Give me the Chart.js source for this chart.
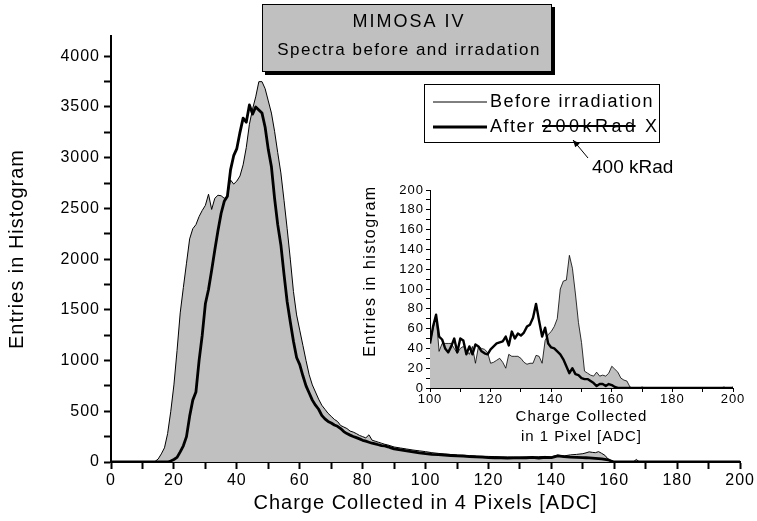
<!DOCTYPE html>
<html lang="en">
<head>
<meta charset="UTF-8">
<title>MIMOSA IV spectra</title>
<script src="https://cdn.jsdelivr.net/npm/chart.js"></script>
<style>
  body { margin: 0; background: #fff; }
  #wrap { position: relative; width: 757px; height: 521px; }
  #main { position: absolute; left: 0; top: 0; }
  #inset { position: absolute; left: 330px; top: 175px; }
</style>
</head>
<body>
<div id="wrap">
  <canvas id="main" width="757" height="521"></canvas>
  <canvas id="inset" width="427" height="275"></canvas>
</div>
<script>
// Charge in 4 pixels [ADC], bins
const mainX = [0,
  12, 13, 14, 15, 16, 17, 18, 19, 20, 21, 22, 23, 24, 25, 26, 27, 28, 29, 30,
  31, 32, 33, 34, 35, 36, 37, 38, 39, 40, 41, 42, 43, 44, 45, 46, 47, 48, 49, 50,
  51, 52, 53, 54, 55, 56, 57, 58, 59, 60, 61, 62, 63, 64, 65, 66, 67, 68, 69, 70,
  71, 72, 73, 74, 75, 76, 77, 78, 79, 80, 81, 82, 83, 84, 85, 86, 87, 88, 89, 90,
  92, 94, 96, 98, 100, 102, 104, 106, 108, 110, 112, 114, 116, 118, 120,
  122, 124, 126, 128, 130, 132, 134, 136, 138, 140, 142, 144, 146, 148, 150,
  151, 152, 153, 154, 155, 156, 157, 158, 159, 160,
  161, 162, 163, 164, 165, 166, 167, 168, 169, 170,
  200];

const mainBefore = [0,
  0, 0, 5, 30, 80, 140, 280, 500, 760, 1100, 1470, 1720, 1960, 2200, 2300, 2340, 2420, 2480, 2530,
  2640, 2490, 2600, 2630, 2625, 2600, 2620, 2780, 2740, 2770, 2820, 2930, 3100, 3330, 3480, 3600, 3750, 3750, 3680, 3560,
  3440, 3260, 3050, 2850, 2580, 2300, 2000, 1680, 1450, 1300, 1150, 1000, 860, 760, 690, 620, 560, 520, 480, 450,
  420, 400, 360, 345, 330, 305, 295, 280, 262, 250, 238, 268, 215, 205, 195, 185, 175, 168, 158, 148,
  138, 128, 118, 110, 102, 92, 85, 78, 74, 70, 68, 63, 60, 57, 55,
  53, 51, 50, 49, 49, 48, 50, 52, 55, 50, 68, 60, 70, 75, 82,
  90, 100, 95, 92, 102, 85, 66, 30, 12, 0,
  0, 0, 0, 0, 0, 0, 25, 0, 0, 0,
  0];

const mainAfter = [0,
  0, 0, 0, 0, 0, 0, 0, 10, 25, 45, 100, 160, 250, 450, 610, 690, 1000, 1250, 1560,
  1700, 1890, 2090, 2280, 2450, 2570, 2620, 2880, 3020, 3090, 3250, 3390, 3350, 3520, 3430, 3500, 3470, 3440, 3300, 3080,
  2910, 2600, 2340, 2140, 1850, 1580, 1380, 1190, 1030, 960, 850, 750, 680, 610, 560, 520, 460, 425, 400, 385,
  365, 352, 330, 300, 280, 265, 252, 240, 228, 214, 205, 195, 185, 178, 170, 162, 158, 150, 140, 130,
  120, 110, 100, 90, 82, 76, 72, 69, 64, 60, 58, 54, 50, 48, 44,
  42, 40, 38, 40, 40, 42, 45, 38, 45, 44, 60, 52, 48, 46, 43,
  42, 40, 38, 36, 33, 30, 26, 22, 10, 0,
  0, 0, 0, 0, 0, 0, 0, 0, 0, 0,
  0];

// Charge in 1 pixel [ADC], bins
const insetX = [
  100, 101, 102, 103, 104, 105, 106, 107, 108, 109, 110, 111, 112, 113, 114, 115, 116, 117, 118, 119,
  120, 121, 122, 123, 124, 125, 126, 127, 128, 129, 130, 131, 132, 133, 134, 135, 136, 137, 138, 139,
  140, 141, 142, 143, 144, 145, 146, 147, 148, 149, 150, 151, 152, 153, 154, 155, 156, 157, 158, 159,
  160, 161, 162, 163, 164, 165, 166, 167, 168, 169, 170, 171,
  196, 197, 198, 199, 200];

const insetBefore = [
  45, 60, 74, 37, 45, 45, 45, 45, 40, 35, 40, 42, 38, 34, 42, 25, 42, 40, 39, 36,
  25, 26, 28, 30, 26, 20, 34, 32, 32, 32, 30, 26, 24, 25, 25, 33, 32, 25, 48, 54,
  57, 62, 70, 100, 108, 109, 134, 121, 95, 66, 46, 17, 15, 13, 12, 16, 12, 13, 12, 15,
  22, 19, 16, 10, 8, 7, 1, 0, 0, 0, 1, 0,
  0, 1, 0, 0, 1];

const insetAfter = [
  45, 62, 74, 52, 49, 40, 36, 42, 50, 36, 50, 48, 34, 42, 34, 44, 42, 37, 35, 34,
  39, 42, 45, 46, 47, 52, 43, 57, 50, 55, 53, 56, 62, 64, 71, 85, 68, 52, 61, 45,
  41, 40, 37, 34, 29, 22, 15, 20, 14, 13, 10, 9, 9, 7, 5, 2, 4, 4, 2, 4,
  3, 1, 0, 0, 0, 0, 0, 0, 0, 0, 0, 0,
  0, 0, 0, 0, 0];

// tick positions (labels on every second one)
const mainXTicks = [0, 10, 20, 30, 40, 50, 60, 70, 80, 90, 100, 110, 120, 130, 140, 150, 160, 170, 180, 190, 200];
const mainYTicks = [0, 250, 500, 750, 1000, 1250, 1500, 1750, 2000, 2250, 2500, 2750, 3000, 3250, 3500, 3750, 4000];
const insetXTicks = [100, 110, 120, 130, 140, 150, 160, 170, 180, 190, 200];
const insetYTicks = [0, 10, 20, 30, 40, 50, 60, 70, 80, 90, 100, 110, 120, 130, 140, 150, 160, 170, 180, 190, 200];

const titleLines = ['MIMOSA IV', 'Spectra before and irradation'];
const legendBefore = 'Before irradiation';
const legendAfter = ['After ', '200kRad', ' X'];   // middle part is struck out
const doseNote = '400 kRad';

const FONT = "'Liberation Sans', Arial, sans-serif";
Chart.defaults.font.family = FONT;
Chart.defaults.color = '#000';

const pts = (xs, ys) => xs.map((x, i) => ({ x: x, y: ys[i] }));

// Origin-style wide letter spacing on every canvas text
const spacing = {
  id: 'spacing',
  beforeUpdate(chart) { chart.ctx.letterSpacing = '1px'; },
  beforeDraw(chart) { chart.ctx.letterSpacing = '1px'; }
};

function axis(min, max, tickList, labelStep, size, tickLen, border) {
  return {
    type: 'linear', min: min, max: max,
    afterBuildTicks: s => { s.ticks = tickList.map(v => ({ value: v })); },
    ticks: {
      autoSkip: false, maxRotation: 0, font: { size: size }, padding: 2,
      callback: v => (v % labelStep === 0 ? v : '')
    },
    grid: { drawOnChartArea: false, drawTicks: true, tickLength: tickLen, tickColor: '#000', tickWidth: border },
    border: { display: true, color: '#000', width: border }
  };
}

// title box, legend and the dose annotation
const decorations = {
  id: 'decorations',
  afterDraw(chart) {
    const ctx = chart.ctx;
    ctx.save();

    // title box with drop shadow
    ctx.fillStyle = '#000';
    ctx.fillRect(265, 7, 290, 68);
    ctx.fillStyle = '#c0c0c0';
    ctx.fillRect(262, 4, 290, 68);
    ctx.strokeStyle = '#000';
    ctx.lineWidth = 1;
    ctx.strokeRect(262.5, 4.5, 289, 67);
    ctx.fillStyle = '#000';
    ctx.textAlign = 'center';
    ctx.textBaseline = 'middle';
    ctx.font = '18px ' + FONT;
    ctx.letterSpacing = '2px';
    ctx.fillText(titleLines[0], 409, 22);
    ctx.font = '17px ' + FONT;
    ctx.letterSpacing = '1.5px';
    ctx.fillText(titleLines[1], 409, 50);

    // legend
    const ds = chart.data.datasets;
    ctx.strokeRect(424.5, 84.5, 235, 58);
    ctx.font = '18px ' + FONT;
    ctx.textAlign = 'left';
    const rows = [{ y: 102, w: ds[1].borderWidth }, { y: 127, w: ds[0].borderWidth }];
    rows.forEach(r => {
      ctx.lineWidth = r.w;
      ctx.beginPath();
      ctx.moveTo(433, r.y);
      ctx.lineTo(487, r.y);
      ctx.stroke();
    });
    const x0 = 490;
    ctx.letterSpacing = '1.5px';
    ctx.fillText(legendBefore, x0, 102);
    let x = x0;
    legendAfter.forEach((part, i) => {
      ctx.letterSpacing = i === 1 ? '3.5px' : '1.5px';
      ctx.fillText(part, x, 127);
      const w = ctx.measureText(part).width;
      if (i === 1) {
        ctx.lineWidth = 2;
        ctx.beginPath();
        ctx.moveTo(x, 126);
        ctx.lineTo(x + w - 3, 126);
        ctx.stroke();
      }
      x += w;
    });

    // arrow pointing at the struck dose
    const ax = 588, ay = 158, bx = 573, by = 140;
    ctx.lineWidth = 1;
    ctx.beginPath();
    ctx.moveTo(ax, ay);
    ctx.lineTo(bx, by);
    ctx.stroke();
    const a = Math.atan2(by - ay, bx - ax);
    ctx.beginPath();
    ctx.moveTo(bx, by);
    ctx.lineTo(bx - 7 * Math.cos(a) + 3 * Math.sin(a), by - 7 * Math.sin(a) - 3 * Math.cos(a));
    ctx.lineTo(bx - 7 * Math.cos(a) - 3 * Math.sin(a), by - 7 * Math.sin(a) + 3 * Math.cos(a));
    ctx.closePath();
    ctx.fill();

    ctx.letterSpacing = '0px';
    ctx.font = '19px ' + FONT;
    ctx.fillText(doseNote, 592, 168);
    ctx.restore();
  }
};

const mainXAxis = axis(0, 200, mainXTicks, 20, 16, 7, 2);
mainXAxis.title = { display: true, text: 'Charge Collected in 4 Pixels [ADC]', font: { size: 20 }, padding: { top: 0, bottom: 6 } };
mainXAxis.afterFit = s => { s.height = 59; };
const mainYAxis = axis(0, 4200, mainYTicks, 500, 16, 7, 2);
mainYAxis.ticks.padding = 4;
mainYAxis.title = { display: true, text: 'Entries in Histogram', font: { size: 20 }, padding: { top: 5, bottom: 0 } };
mainYAxis.afterFit = s => { s.width = 111; };

new Chart(document.getElementById('main'), {
  type: 'line',
  data: {
    datasets: [
      { label: 'After', data: pts(mainX, mainAfter), borderColor: '#000', borderWidth: 2.8,
        borderJoinStyle: 'round', fill: false, order: 0 },
      { label: 'Before irradiation', data: pts(mainX, mainBefore), borderColor: '#000', borderWidth: 1,
        backgroundColor: '#c0c0c0', fill: 'origin', order: 1 }
    ]
  },
  options: {
    responsive: false, animation: false, devicePixelRatio: 1,
    layout: { padding: { left: 0, right: 16, top: 36, bottom: 0 } },
    elements: { point: { radius: 0 }, line: { tension: 0 } },
    plugins: { legend: { display: false }, tooltip: { enabled: false } },
    scales: { x: mainXAxis, y: mainYAxis }
  },
  plugins: [spacing, decorations]
});

// rotated y title of the inset, sitting a little above the axis middle
const insetTitle = {
  id: 'insetTitle',
  afterDraw(chart) {
    const ctx = chart.ctx;
    ctx.save();
    ctx.letterSpacing = '1.5px';
    ctx.translate(41, 96);
    ctx.rotate(-Math.PI / 2);
    ctx.font = '16px ' + FONT;
    ctx.fillStyle = '#000';
    ctx.textAlign = 'center';
    ctx.textBaseline = 'middle';
    ctx.fillText('Entries in histogram', 0, 0);
    ctx.restore();
  }
};

const insetXAxis = axis(100, 200, insetXTicks, 20, 13, 4, 1);
insetXAxis.ticks.padding = 0;
insetXAxis.title = { display: true, text: ['Charge Collected', 'in 1 Pixel [ADC]'], font: { size: 15, lineHeight: 1.33 }, padding: { top: 0, bottom: 3 } };
insetXAxis.afterFit = s => { s.height = 62; };
const insetYAxis = axis(0, 200, insetYTicks, 20, 13, 4, 1);
insetYAxis.afterFit = s => { s.width = 100; };

new Chart(document.getElementById('inset'), {
  type: 'line',
  data: {
    datasets: [
      { label: 'After', data: pts(insetX, insetAfter), borderColor: '#000', borderWidth: 2.4,
        borderJoinStyle: 'round', fill: false, order: 0 },
      { label: 'Before irradiation', data: pts(insetX, insetBefore), borderColor: '#000', borderWidth: 0.8,
        backgroundColor: '#c0c0c0', fill: 'origin', order: 1 }
    ]
  },
  options: {
    responsive: false, animation: false, devicePixelRatio: 1,
    layout: { padding: { left: 0, right: 24, top: 15, bottom: 0 } },
    elements: { point: { radius: 0 }, line: { tension: 0 } },
    plugins: { legend: { display: false }, tooltip: { enabled: false } },
    scales: { x: insetXAxis, y: insetYAxis }
  },
  plugins: [spacing, insetTitle]
});
</script>
</body>
</html>
